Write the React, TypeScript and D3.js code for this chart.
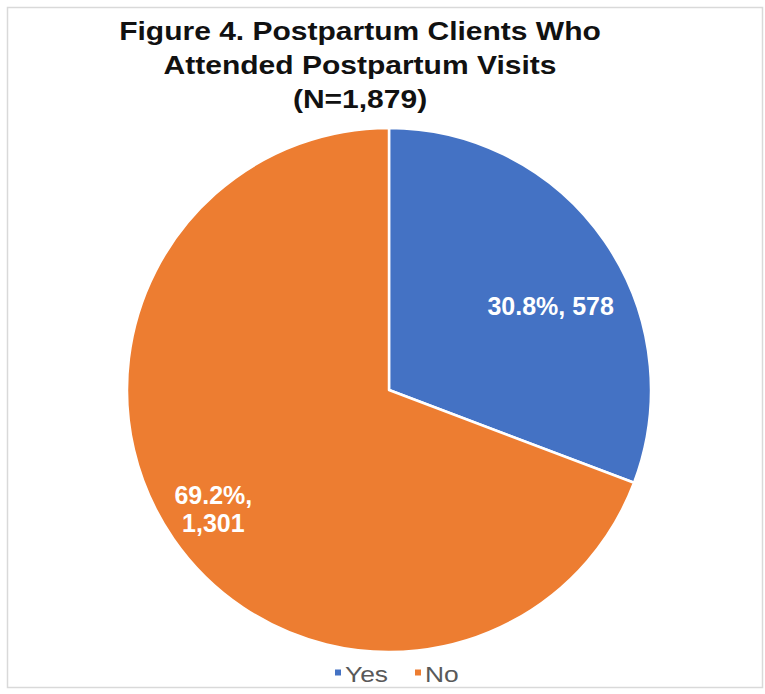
import React from "react";
import * as d3 from "d3";

const categories = ["Yes", "No"];
const counts = [578, 1301];
const percents = ["30.8%", "69.2%"];
const countLabels = ["578", "1,301"];
const titleLines = [
  "Figure 4. Postpartum Clients Who",
  "Attended Postpartum Visits",
  "(N=1,879)",
];
const colors = ["#4472C4", "#ED7D31"];
// label layout (style): multi-line split and pixel nudges from centroid
const labelLines = [
  [`${percents[0]}, ${countLabels[0]}`],
  [`${percents[1]},`, countLabels[1]],
];
const labelNudge: [number, number][] = [
  [0, 28],
  [-14, 7],
];

const W = 765;
const H = 694;
const cx = 389;
const cy = 390;
const R = 262;
const FONT = "'Liberation Sans', Arial, Helvetica, sans-serif";

export default function App() {
  const pie = d3
    .pie<number>()
    .sort(null)
    .startAngle(0)
    .endAngle(2 * Math.PI)
    .value((d) => d);
  const arcs = pie(counts);
  const arc = d3.arc<d3.PieArcDatum<number>>().innerRadius(0).outerRadius(R);
  const labelArc = d3
    .arc<d3.PieArcDatum<number>>()
    .innerRadius(R * 0.75)
    .outerRadius(R * 0.75);

  const legendX = [335, 415];

  return (
    <svg
      width={W}
      height={H}
      style={{ position: "absolute", left: 0, top: 0, background: "#fff" }}
      fontFamily={FONT}
    >
      <rect x={0} y={0} width={W} height={H} fill="#fff" />
      <rect
        x={7.5}
        y={7.5}
        width={755}
        height={680}
        fill="#fff"
        stroke="#d9d9d9"
        strokeWidth={1.5}
      />
      {titleLines.map((t, i) => (
        <text
          key={i}
          transform={`translate(360, ${40 + i * 34}) scale(1.2, 1)`}
          textAnchor="middle"
          fontSize={25}
          fontWeight="bold"
          fill="#111"
        >
          {t}
        </text>
      ))}
      <g transform={`translate(${cx}, ${cy})`}>
        {arcs.map((a, i) => (
          <path
            key={i}
            d={arc(a) || ""}
            fill={colors[i]}
            stroke="#fff"
            strokeWidth={2.5}
            strokeLinejoin="round"
          />
        ))}
        {arcs.map((a, i) => {
          const [lx, ly] = labelArc.centroid(a);
          const x = lx + labelNudge[i][0];
          const y = ly + labelNudge[i][1];
          const lines = labelLines[i];
          const lh = 28;
          const top = y - ((lines.length - 1) * lh) / 2;
          return (
            <text
              key={i}
              textAnchor="middle"
              fontSize={25}
              fontWeight="bold"
              fill="#fff"
            >
              {lines.map((l, j) => (
                <tspan key={j} x={x} y={top + j * lh + 9}>
                  {l}
                </tspan>
              ))}
            </text>
          );
        })}
      </g>
      {categories.map((c, i) => (
        <g key={c}>
          <rect x={legendX[i]} y={669.5} width={6} height={6} fill={colors[i]} />
          <text
            transform={`translate(${legendX[i] + 10}, 682) scale(1.2, 1)`}
            fontSize={22}
            fill="#595959"
          >
            {c}
          </text>
        </g>
      ))}
    </svg>
  );
}
